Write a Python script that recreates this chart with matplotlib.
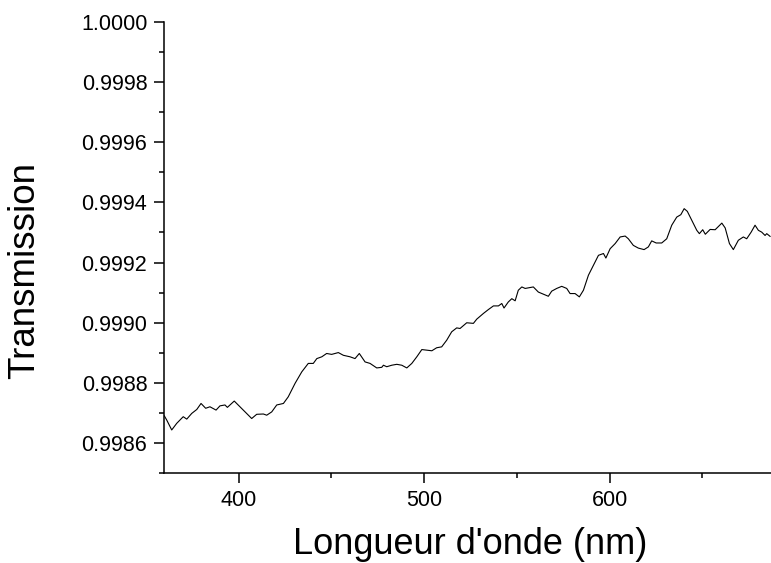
import matplotlib
matplotlib.use('Agg')
import matplotlib.pyplot as plt
from matplotlib.ticker import MultipleLocator, FormatStrFormatter

plt.rcParams['font.family'] = ['Liberation Sans', 'DejaVu Sans']

# spectre de transmission (longueur d'onde en nm)
wavelength = [
    360.0, 361.3, 364.0, 366.7, 370.2, 372.1, 374.8, 377.5, 379.8, 382.3,
    384.6, 387.9, 390.0, 392.7, 394.0, 397.7, 400.8, 404.4, 407.1, 409.8,
    413.4, 415.2, 417.9, 420.6, 424.2, 426.8, 430.5, 434.1, 437.6, 440.3,
    442.2, 444.9, 447.5, 450.2, 453.8, 456.5, 460.1, 462.8, 465.1, 468.2,
    470.9, 474.5, 477.2, 478.1, 479.9, 482.6, 485.3, 488.0, 490.7, 493.4,
    496.1, 498.8, 501.5, 504.2, 506.8, 509.5, 512.2, 514.9, 517.6, 519.4,
    523.0, 526.6, 528.4, 532.0, 534.7, 537.4, 540.1, 541.9, 543.1, 545.4,
    547.3, 549.1, 550.8, 552.7, 554.5, 558.9, 561.6, 563.5, 567.0, 568.8,
    571.5, 574.2, 576.9, 578.7, 581.4, 583.7, 585.9, 588.6, 591.3, 594.0,
    596.7, 598.0, 600.3, 603.0, 605.7, 608.4, 610.1, 612.8, 615.5, 618.6,
    620.9, 622.7, 625.1, 628.1, 630.8, 633.5, 636.2, 638.4, 640.2, 641.9,
    644.3, 647.0, 648.4, 650.2, 651.6, 654.2, 656.9, 660.5, 662.3, 664.6,
    666.7, 669.4, 672.1, 673.9, 676.3, 678.4, 680.2, 682.0, 683.8, 684.7,
    686.5,
]
transmission = [
    0.998691, 0.998677, 0.998644, 0.998666, 0.998688, 0.998680, 0.998699, 0.998712, 0.998732, 0.998716,
    0.998721, 0.998710, 0.998724, 0.998727, 0.998719, 0.998740, 0.998721, 0.998699, 0.998682, 0.998696,
    0.998697, 0.998693, 0.998704, 0.998727, 0.998732, 0.998754, 0.998799, 0.998837, 0.998865, 0.998865,
    0.998881, 0.998887, 0.998898, 0.998895, 0.998901, 0.998892, 0.998887, 0.998881, 0.998898, 0.998870,
    0.998865, 0.998850, 0.998852, 0.998859, 0.998854, 0.998859, 0.998862, 0.998859, 0.998850, 0.998865,
    0.998887, 0.998911, 0.998909, 0.998907, 0.998917, 0.998920, 0.998942, 0.998970, 0.998983, 0.998981,
    0.999000, 0.998998, 0.999012, 0.999031, 0.999044, 0.999056, 0.999056, 0.999064, 0.999049, 0.999069,
    0.999080, 0.999073, 0.999108, 0.999119, 0.999114, 0.999119, 0.999102, 0.999097, 0.999088, 0.999105,
    0.999114, 0.999121, 0.999114, 0.999097, 0.999097, 0.999086, 0.999108, 0.999158, 0.999191, 0.999224,
    0.999230, 0.999215, 0.999246, 0.999263, 0.999285, 0.999288, 0.999279, 0.999257, 0.999248, 0.999243,
    0.999252, 0.999272, 0.999265, 0.999265, 0.999279, 0.999324, 0.999351, 0.999359, 0.999379, 0.999370,
    0.999340, 0.999307, 0.999296, 0.999309, 0.999294, 0.999310, 0.999309, 0.999331, 0.999315, 0.999263,
    0.999243, 0.999274, 0.999285, 0.999279, 0.999301, 0.999324, 0.999307, 0.999301, 0.999290, 0.999296,
    0.999287,
]

fig = plt.figure(figsize=(7.71, 5.63), dpi=100)
ax = fig.add_axes([0.2131, 0.1593, 0.7869, 0.8022])

ax.plot(wavelength, transmission, color='black', linewidth=0.8)

ax.set_xlim(360, 687)
ax.set_ylim(0.9985, 1.0000)

ax.xaxis.set_major_locator(MultipleLocator(100))
ax.xaxis.set_minor_locator(MultipleLocator(50))
ax.yaxis.set_major_locator(MultipleLocator(0.0002))
ax.yaxis.set_minor_locator(MultipleLocator(0.0001))
ax.yaxis.set_major_formatter(FormatStrFormatter('%.4f'))

# seulement les axes gauche et bas
ax.spines['top'].set_visible(False)
ax.spines['right'].set_visible(False)
for s in ['left', 'bottom']:
    ax.spines[s].set_linewidth(1.1)

ax.tick_params(which='both', direction='out', width=1.1, top=False, right=False)
ax.tick_params(which='major', length=7.2, labelsize=15.5)
ax.tick_params(axis='x', which='major', pad=5)
ax.tick_params(axis='y', which='major', pad=5)
ax.tick_params(which='minor', length=3.8)

fig.text(470 / 771, 1 - 545 / 563, "Longueur d'onde (nm)", fontsize=26,
         ha='center', va='center')
fig.text(25 / 771, 1 - 271 / 563, 'Transmission', fontsize=26.5,
         ha='center', va='center', rotation=90)

fig.savefig('out.png', dpi=100)
